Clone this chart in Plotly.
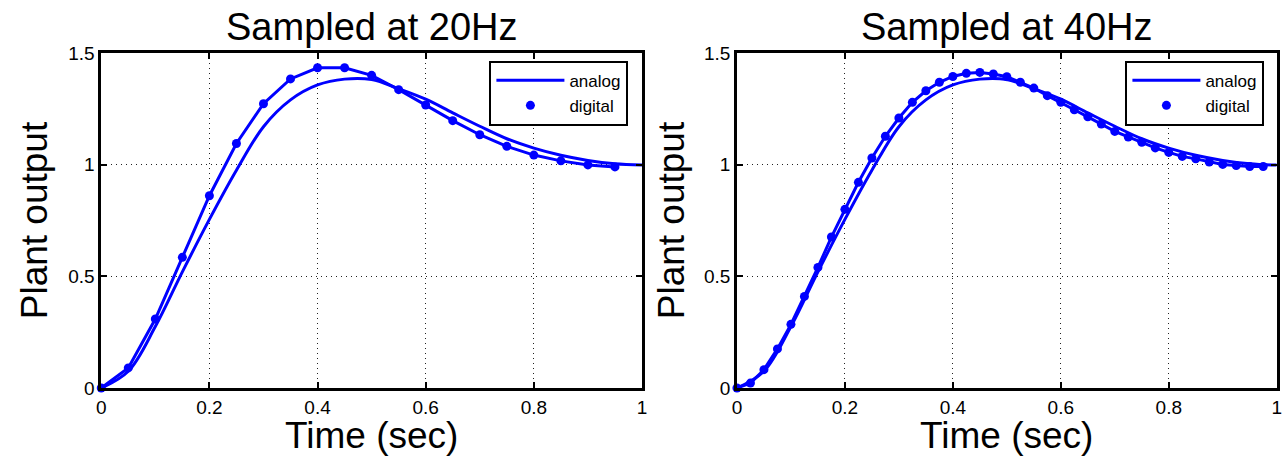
import plotly.graph_objects as go

# Continuous (analog) plant step response, sampled every 0.05 s
t_analog = [round(k * 0.05, 3) for k in range(21)]
y_analog = [0, 0.075, 0.275, 0.52, 0.755, 0.975, 1.17, 1.29, 1.357, 1.383, 1.381,
            1.34, 1.293, 1.232, 1.172, 1.116, 1.074, 1.042, 1.019, 1.004, 0.998]

# Digital controller, 20 Hz sampling
t_20 = [round(k * 0.05, 3) for k in range(20)]
y_20 = [0, 0.09, 0.309, 0.585, 0.861, 1.095, 1.273, 1.384, 1.434, 1.434,
        1.40, 1.336, 1.267, 1.197, 1.134, 1.082, 1.043, 1.017, 0.999, 0.990]

# Digital controller, 40 Hz sampling
t_40 = [round(k * 0.025, 4) for k in range(40)]
y_40 = [0, 0.022, 0.082, 0.175, 0.285, 0.41, 0.54, 0.676, 0.80, 0.921,
        1.03, 1.127, 1.209, 1.279, 1.331, 1.369, 1.395, 1.409, 1.413, 1.406,
        1.394, 1.369, 1.343, 1.309, 1.279, 1.246, 1.214, 1.182, 1.149, 1.124,
        1.10, 1.075, 1.055, 1.037, 1.026, 1.012, 1.001, 0.996, 0.992, 0.992]

titles = ["Sampled at 20Hz", "Sampled at 40Hz"]
x_ticks = [0, 0.2, 0.4, 0.6, 0.8, 1]
y_ticks = [0, 0.5, 1, 1.5]

BLUE = "#0000ff"
FONT = "Liberation Sans, Arial, Helvetica, sans-serif"
W, H = 1284, 461

fig = go.Figure()

panels = [("x", "y", "legend", t_20, y_20), ("x2", "y2", "legend2", t_40, y_40)]
for xa, ya, lg, td, yd in panels:
    fig.add_trace(go.Scatter(x=t_analog, y=y_analog, mode="lines", name="analog",
                             line=dict(color=BLUE, width=3, shape="spline", smoothing=1.0),
                             xaxis=xa, yaxis=ya, legend=lg))
    fig.add_trace(go.Scatter(x=td, y=yd, mode="lines", showlegend=False,
                             line=dict(color=BLUE, width=3),
                             xaxis=xa, yaxis=ya, hoverinfo="skip"))
    fig.add_trace(go.Scatter(x=td, y=yd, mode="markers", name="digital",
                             marker=dict(color=BLUE, size=9),
                             cliponaxis=False,
                             xaxis=xa, yaxis=ya, legend=lg))

axis_common = dict(
    showline=True, linecolor="black", linewidth=2.5, mirror="ticks",
    ticks="inside", ticklen=6, tickwidth=1.5, tickcolor="black",
    showgrid=True, gridcolor="#222222", gridwidth=1, griddash="1px,4px",
    zeroline=False, tickfont=dict(family=FONT, size=19, color="black"),
)

x_dom1 = [97 / W, 642 / W]
x_dom2 = [737.7 / W, 1281.7 / W]

fig.update_layout(
    width=W, height=H,
    margin=dict(l=0, r=0, t=53, b=73),
    paper_bgcolor="white", plot_bgcolor="white",
    font=dict(family=FONT, color="black"),
    xaxis=dict(domain=x_dom1, range=[0, 1], tickvals=x_ticks, anchor="y", **axis_common),
    yaxis=dict(domain=[0, 1], range=[0, 1.5], tickvals=y_ticks, anchor="x", **axis_common),
    xaxis2=dict(domain=x_dom2, range=[0, 1], tickvals=x_ticks, anchor="y2", **axis_common),
    yaxis2=dict(domain=[0, 1], range=[0, 1.5], tickvals=y_ticks, anchor="x2", **axis_common),
)

legend_style = dict(
    bgcolor="white", bordercolor="black", borderwidth=2,
    font=dict(family=FONT, size=17, color="black"),
    xanchor="right", yanchor="top", itemwidth=68,
    tracegroupgap=0,
)
fig.update_layout(
    legend=dict(x=628.3 / W, y=0.977, **legend_style),
    legend2=dict(x=1269.3 / W, y=0.977, **legend_style),
)

annotations = []
for i, (dom, title) in enumerate(zip([x_dom1, x_dom2], titles)):
    cx = (dom[0] + dom[1]) / 2
    annotations.append(dict(text=title, x=cx, y=1.0785, xref="paper", yref="paper",
                            xanchor="center", yanchor="middle", showarrow=False,
                            font=dict(family=FONT, size=38, color="black")))
    annotations.append(dict(text="Time (sec)", x=cx, y=-0.142, xref="paper", yref="paper",
                            xanchor="center", yanchor="middle", showarrow=False,
                            font=dict(family=FONT, size=37, color="black")))
    annotations.append(dict(text="Plant output", x=(30 if i == 0 else 672) / W, y=0.5,
                            xref="paper", yref="paper", textangle=-90,
                            xanchor="center", yanchor="middle", showarrow=False,
                            font=dict(family=FONT, size=37, color="black")))
fig.update_layout(annotations=annotations)

fig.write_html("out.html")
